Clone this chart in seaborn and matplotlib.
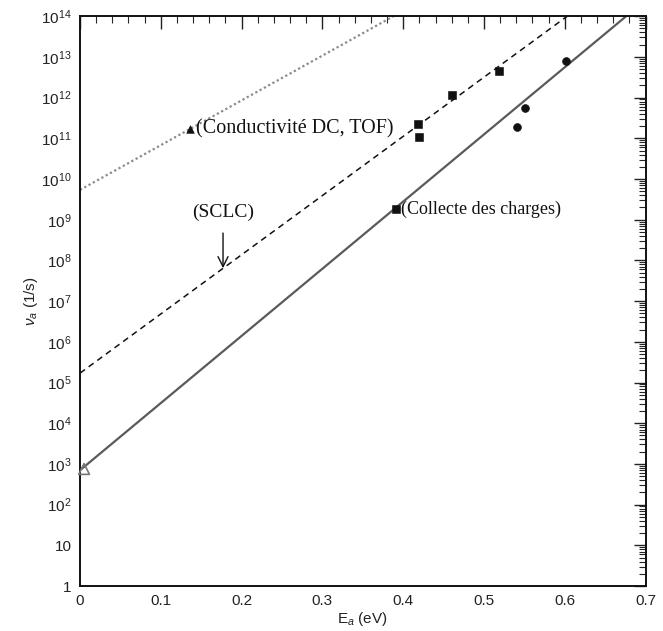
import numpy as np
import pandas as pd
import matplotlib
matplotlib.use("Agg")
import matplotlib.pyplot as plt
import seaborn as sns
from matplotlib.ticker import LogLocator, FixedLocator, MultipleLocator, NullFormatter

sns.set_theme(style="white")
plt.rcParams['font.family'] = ['Liberation Sans', 'DejaVu Sans']
plt.rcParams['mathtext.fontset'] = 'custom'
plt.rcParams['mathtext.rm'] = 'Liberation Sans'
plt.rcParams['mathtext.it'] = 'Liberation Sans:italic'

# Lines (Arrhenius-type fits): endpoints
line_solid_x = [0.0, 0.676]
line_solid_y = [7e2, 1e14]
line_dashed_x = [0.0, 0.603]
line_dashed_y = [1.7e5, 1e14]
line_dotted_x = [0.0, 0.388]
line_dotted_y = [5.4e9, 1e14]

# Data points
squares_x = [0.418, 0.419, 0.461, 0.519, 0.391]
squares_y = [2.2e11, 1.07e11, 1.15e12, 4.5e12, 1.8e9]
circles_x = [0.601, 0.551, 0.541]
circles_y = [8e12, 5.5e11, 1.9e11]
tri_x = [0.136]
tri_y = [1.7e11]
open_tri_x = [0.005]
open_tri_y = [7.5e2]

ytick_vals = [10.0**k for k in range(0, 15)]
ytick_labels = ["1", "10"] + [f"$\\mathregular{{10^{{{k}}}}}$" for k in range(2, 15)]
xtick_vals = [0, 0.1, 0.2, 0.3, 0.4, 0.5, 0.6, 0.7]
xtick_labels = ["0", "0.1", "0.2", "0.3", "0.4", "0.5", "0.6", "0.7"]

fig = plt.figure(figsize=(6.63, 6.31), dpi=100)
ax = fig.add_axes([0.1207, 0.0713, 0.853, 0.903])

sns.lineplot(x=line_dotted_x, y=line_dotted_y, ax=ax, color="#8a8a8a",
             linestyle=(0, (1, 1.2)), linewidth=1.6)
sns.lineplot(x=line_dashed_x, y=line_dashed_y, ax=ax, color="#111111",
             linestyle=(0, (4, 3)), linewidth=1.1)
sns.lineplot(x=line_solid_x, y=line_solid_y, ax=ax, color="#5a5a5a",
             linestyle="-", linewidth=1.6)

sns.scatterplot(x=squares_x, y=squares_y, ax=ax, marker="s", s=28,
                color="#111111", edgecolor="#111111", zorder=5)
sns.scatterplot(x=circles_x, y=circles_y, ax=ax, marker="o", s=32,
                color="#111111", edgecolor="#111111", zorder=5)
sns.scatterplot(x=tri_x, y=tri_y, ax=ax, marker="^", s=30,
                color="#111111", edgecolor="#111111", zorder=5)
ax.scatter(open_tri_x, open_tri_y, marker="^", s=60, facecolor="none",
           edgecolor="#777777", linewidth=1.2, zorder=5, clip_on=False)

ax.set_yscale("log")
ax.set_xlim(0, 0.7)
ax.set_ylim(1, 1e14)

ax.yaxis.set_major_locator(FixedLocator(ytick_vals))
ax.set_yticklabels(ytick_labels)
ax.yaxis.set_minor_locator(LogLocator(base=10, subs=np.arange(2, 10), numticks=100))
ax.yaxis.set_minor_formatter(NullFormatter())
ax.set_xticks(xtick_vals)
ax.set_xticklabels(xtick_labels)
ax.xaxis.set_minor_locator(MultipleLocator(0.02))

ax.tick_params(axis="both", which="major", direction="in", length=9, width=1.0,
               top=True, right=True, labelsize=11, colors="#222222", pad=6)
ax.tick_params(axis="both", which="minor", direction="in", length=5, width=0.8,
               top=True, right=True)
ax.tick_params(axis="x", which="major", pad=6)
for sp in ax.spines.values():
    sp.set_color("#111111")
    sp.set_linewidth(1.4)

ax.set_xlabel("E$_a$ (eV)", fontsize=11, color="#222222", labelpad=1)
ax.set_ylabel(r"$\nu_a$ (1/s)", fontsize=11, color="#222222", labelpad=1)

serif = ["Liberation Serif", "DejaVu Serif"]
ax.text(0.143, 1.7e11, "(Conductivité DC, TOF)", family=serif, fontsize=14.5,
        va="center", ha="left", color="#111111")
ax.text(0.397, 1.8e9, "(Collecte des charges)", family=serif, fontsize=13,
        va="center", ha="left", color="#111111")
ax.text(0.177, 1.5e9, "(SCLC)", family=serif, fontsize=14,
        va="center", ha="center", color="#111111")
ax.annotate("", xy=(0.177, 5.5e7), xytext=(0.177, 5.5e8),
            arrowprops=dict(arrowstyle="->", color="#111111", lw=1.0,
                            mutation_scale=18))

fig.savefig("out.png", dpi=100)
